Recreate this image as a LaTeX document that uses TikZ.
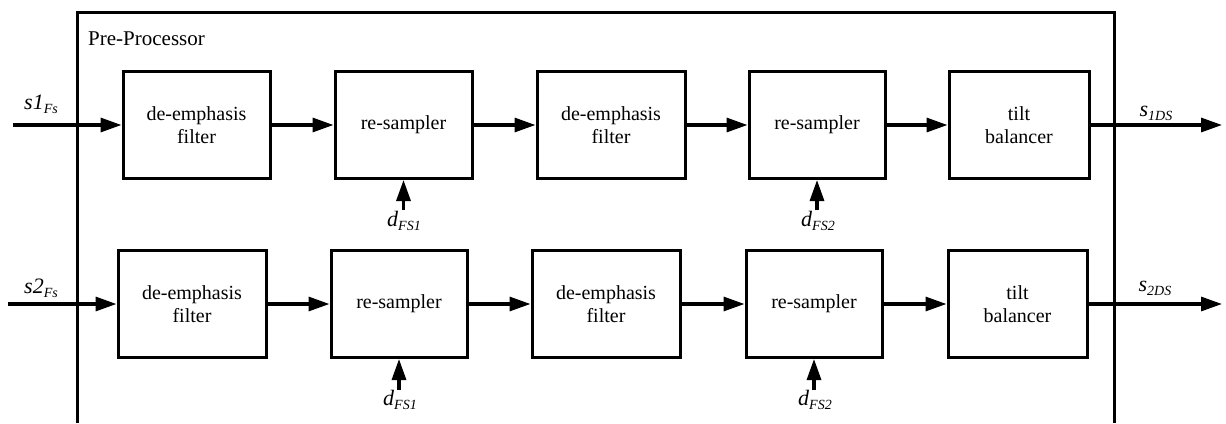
\documentclass[tikz,border=0pt]{standalone}
\usepackage{fontspec}
\setmainfont{Liberation Serif}
\usetikzlibrary{arrows.meta}
\newcommand{\mysig}[2]{{\fontsize{22}{24}\selectfont\itshape #1\raisebox{-4pt}{\fontsize{14}{16}\selectfont #2}}}
\begin{document}
\begin{tikzpicture}[x=1pt,y=-1pt,
  blk/.style={draw,line width=3pt,minimum height=107pt,inner sep=0pt,align=center,font=\fontsize{20}{23}\selectfont},
  conn/.style={line width=3.2pt,-{Triangle[length=21pt,width=14pt]}},
  frm/.style={line width=3pt},
  lbl/.style={inner sep=0pt,anchor=center}]
\useasboundingbox (0,0) rectangle (1226,423);
% frame
\draw[frm] (77,423) -- (77,12) -- (1114,12) -- (1114,423);
\node[anchor=base west,inner sep=0pt,font=\fontsize{21}{24}\selectfont] (pp) at (88,45) {Pre-Processor};
% row 1
\node[blk,minimum width=147pt] (a1) at (196.5,125) {de-emphasis\\filter};
\node[blk,minimum width=137pt] (a2) at (403.5,125) {re-sampler};
\node[blk,minimum width=148pt] (a3) at (611,125) {de-emphasis\\filter};
\node[blk,minimum width=136pt] (a4) at (817,125) {re-sampler};
\node[blk,minimum width=140pt] (a5) at (1019,125) {tilt\\balancer};
% row 2
\node[blk,minimum width=148pt] (b1) at (192,304) {de-emphasis\\filter};
\node[blk,minimum width=136pt] (b2) at (399,304) {re-sampler};
\node[blk,minimum width=148pt] (b3) at (606,304) {de-emphasis\\filter};
\node[blk,minimum width=136pt] (b4) at (814,304) {re-sampler};
\node[blk,minimum width=139pt] (b5) at (1017.5,304) {tilt\\balancer};
% inputs / outputs
\coordinate (in1) at (13,125);
\coordinate (in2) at (8,304);
\coordinate (out1) at (1222,125);
\coordinate (out2) at (1222,304);
\node[lbl] (s1) at (41,104) {\mysig{s1}{Fs}};
\node[lbl] (s2) at (41,288) {\mysig{s2}{Fs}};
\node[lbl] (o1) at (1156,113) {\mysig{s}{1DS}};
\node[lbl] (o2) at (1155,288) {\mysig{s}{2DS}};
\draw[conn] (in1) -- (a1.west);
\draw[conn] (a1) -- (a2);
\draw[conn] (a2) -- (a3);
\draw[conn] (a3) -- (a4);
\draw[conn] (a4) -- (a5);
\draw[conn] (a5.east) -- (out1);
\draw[conn] (in2) -- (b1.west);
\draw[conn] (b1) -- (b2);
\draw[conn] (b2) -- (b3);
\draw[conn] (b3) -- (b4);
\draw[conn] (b4) -- (b5);
\draw[conn] (b5.east) -- (out2);
% control inputs
\coordinate (ca2) at (403.5,210);
\coordinate (ca4) at (817,210);
\coordinate (cb2) at (399,390);
\coordinate (cb4) at (814,390);
\node[lbl] (da2) at (404,221) {\mysig{d}{FS1}};
\node[lbl] (da4) at (818,221) {\mysig{d}{FS2}};
\node[lbl] (db2) at (400,400) {\mysig{d}{FS1}};
\node[lbl] (db4) at (815,400) {\mysig{d}{FS2}};
\draw[conn] (ca2) -- (a2.south);
\draw[conn] (ca4) -- (a4.south);
\draw[conn] (cb2) -- (b2.south);
\draw[conn] (cb4) -- (b4.south);
\end{tikzpicture}
\end{document}
